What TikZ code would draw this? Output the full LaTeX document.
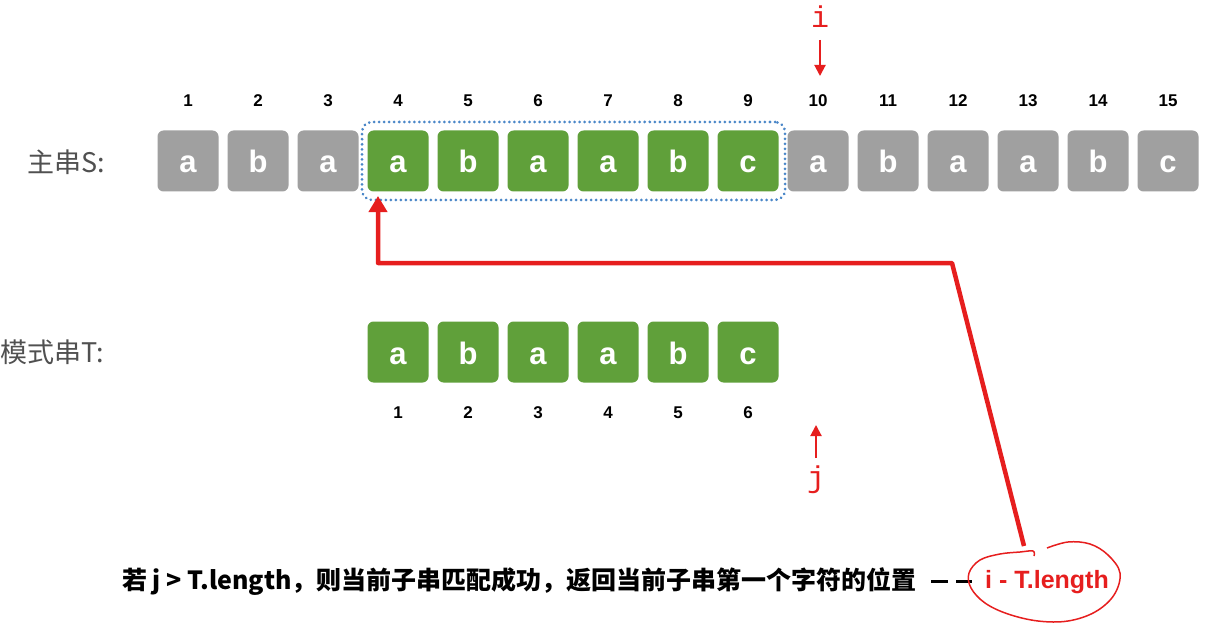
\documentclass[tikz,border=0pt]{standalone}
\usepackage{fontspec}
\setmainfont{Liberation Sans}
\newfontfamily\cjk{Noto Sans CJK SC}
\newfontfamily\monof{Liberation Mono}
\usetikzlibrary{arrows.meta,calc}
\definecolor{boxgray}{RGB}{160,160,160}
\definecolor{boxgreen}{RGB}{96,160,58}
\definecolor{dotblue}{RGB}{75,135,200}
\definecolor{hred}{RGB}{230,30,30}
\definecolor{labgray}{RGB}{80,80,80}
\begin{document}
\begin{tikzpicture}[x=1pt,y=-1pt,
  cell/.style={rounded corners=6pt,minimum width=61pt,minimum height=61pt,inner sep=0pt,text=white,
    text height=24pt,text depth=0pt,font=\fontsize{31}{31}\selectfont\bfseries},
  graycell/.style={cell,fill=boxgray},
  greencell/.style={cell,fill=boxgreen},
  idx/.style={font=\fontsize{17}{17}\selectfont\bfseries,inner sep=0pt},
  lab/.style={font=\cjk\fontsize{27}{27}\selectfont,text=labgray,inner sep=0pt},
  ptr/.style={draw=hred,line width=2pt,-{Triangle[length=11pt,width=11pt]}},
  ptrlab/.style={font=\monof\fontsize{30}{30}\selectfont,text=hred,inner sep=0pt},
  bigarrow/.style={draw=hred,line width=4.5pt,line join=round,-{Triangle[length=16pt,width=18pt]}}
]
\useasboundingbox (0,0) rectangle (1220,631);
% main string
\foreach \k/\c in {1/a,2/b,3/a,4/a,5/b,6/a,7/a,8/b,9/c,10/a,11/b,12/a,13/a,14/b,15/c}{
  \pgfmathsetmacro{\xx}{188+70*(\k-1)}
  \ifnum\k<4 \def\st{graycell}\else\ifnum\k>9 \def\st{graycell}\else\def\st{greencell}\fi\fi
  \node[\st] (s\k) at (\xx,161) {\c};
  \node[idx] (n\k) at (\xx,101) {\k};
}
% pattern
\foreach \k/\c in {1/a,2/b,3/a,4/a,5/b,6/c}{
  \pgfmathsetmacro{\xx}{398+70*(\k-1)}
  \node[greencell] (t\k) at (\xx,352) {\c};
  \node[idx] (m\k) at (\xx,413) {\k};
}
\node[lab,anchor=west] (ls) at (27,162) {主串S:};
\node[lab,anchor=west] (lt) at (0,352) {模式串T:};
% dotted frame
\node[draw=dotblue,line width=3pt,dash pattern=on 0.01pt off 5pt,line cap=round,rounded corners=10pt,
      minimum width=423pt,minimum height=78pt] (win) at (573.5,161) {};
% i pointer
\node[ptrlab] (ilab) at (820,17) {i};
\coordinate (itop) at (820,40);
\draw[ptr] (itop) -- (820,76);
% j pointer
\node[ptrlab] (jlab) at (816,480) {j};
\coordinate (jbot) at (816,458);
\draw[ptr] (jbot) -- (816,425);
% bottom text
\node[font=\cjk\bfseries\fontsize{25}{25}\selectfont,anchor=west,inner sep=0pt] (cond) at (122,582) {若 j > T.length，则当前子串匹配成功，返回当前子串第一个字符的位置};
\node[font=\bfseries\fontsize{25}{25}\selectfont,text=hred,inner sep=0pt] (res) at (1047,582) {i - T.length};
\coordinate (d0) at (931,581);
\draw[line width=3pt] (d0) -- ++(17,0) coordinate (d1);
\draw[line width=3pt] (d1) ++(8,0) -- ++(16,0);
% hand-drawn circle
\draw[hred,line width=1.5pt] plot[smooth,tension=0.6] coordinates {
 (1047,548) (1068,542) (1090,544) (1108,555) (1120,573) (1114,595) (1095,612) (1068,621) (1038,621) (1008,614) (985,603) (971,588) (969,573) (980,560) (1000,554) (1020,552) (1033,551) (1034,556)};
% big red connector
\coordinate (e) at (1024,546);
\coordinate (tip) at (378,196);
\draw[bigarrow] (e) -- (952,263) -- (378,263) -- (tip);
\end{tikzpicture}
\end{document}
